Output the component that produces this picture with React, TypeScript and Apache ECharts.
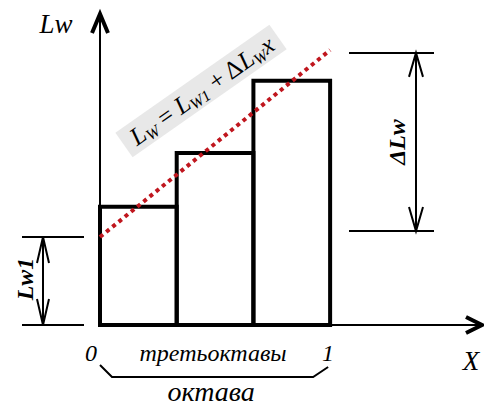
import React, { useEffect, useRef } from "react";
import * as echarts from "echarts";

// Octave split into three third-octave bands
const bandEdges = [0, 1 / 3, 2 / 3, 1];
const bandLevels = [38, 55.3, 78.5];
// Linear law Lw = Lw1 + ΔLw·x
const fitX = [0, 1];
const fitY = [28.3, 88.4];
// Dimension marks: Lw1 from baseline, ΔLw span
const lw1Span = [0, 28.3];
const dLwSpan = [30.2, 87.5];
const xMax = 1.66;
const yMax = 100;

const SERIF = "'Liberation Serif', 'DejaVu Serif', serif";
const fnt = (size: number, italic = true, bold = false) =>
  `${italic ? "italic " : ""}${bold ? "bold " : ""}${size}px ${SERIF}`;

export default function App() {
  const ref = useRef<HTMLDivElement>(null);

  useEffect(() => {
    const chart = echarts.init(ref.current!, null, { renderer: "svg" });
    chart.setOption({
      animation: false,
      grid: { left: 100, top: 14, width: 382, height: 311 },
      xAxis: {
        type: "value",
        min: 0,
        max: xMax,
        axisLine: { show: true, onZero: false, lineStyle: { color: "#000", width: 2 } },
        axisTick: { show: false },
        axisLabel: { show: false },
        splitLine: { show: false },
      },
      yAxis: {
        type: "value",
        min: 0,
        max: yMax,
        axisLine: { show: true, lineStyle: { color: "#000", width: 2 } },
        axisTick: { show: false },
        axisLabel: { show: false },
        splitLine: { show: false },
      },
      series: [
        {
          type: "custom",
          z: 3,
          encode: { x: [0, 1], y: 2 },
          data: bandLevels.map((v, i) => [bandEdges[i], bandEdges[i + 1], v]),
          renderItem: (params: any, api: any) => {
            const p0 = api.coord([api.value(0), 0]);
            const p1 = api.coord([api.value(1), api.value(2)]);
            return {
              type: "rect",
              shape: { x: p0[0], y: p1[1], width: p1[0] - p0[0], height: p0[1] - p1[1] },
              style: { fill: "rgba(255,255,255,0)", stroke: "#000", lineWidth: 4, lineJoin: "miter" },
            };
          },
        },
        {
          type: "line",
          z: 5,
          symbol: "none",
          data: fitX.map((x, i) => [x, fitY[i]]),
          lineStyle: { color: "#c0161e", width: 4, type: [4, 4] },
        },
      ],
    });

    const px = (x: number, y: number) => chart.convertToPixel({ gridIndex: 0 }, [x, y]) as number[];
    const o = px(0, 0);
    const one = px(1, 0);
    const top = px(0, yMax);
    const end = px(xMax, 0);
    const a1 = px(0, lw1Span[1]);
    const d0 = px(0, dLwSpan[0]);
    const d1 = px(0, dLwSpan[1]);

    const line = (pts: number[][], w = 2) => ({
      type: "polyline",
      z: 10,
      shape: { points: pts },
      style: { stroke: "#000", lineWidth: w, fill: null, lineJoin: "miter" },
    });
    const dimArrow = (x: number, yTop: number, yBot: number, hw: number, len: number) => [
      line([[x, yTop], [x, yBot]], 2),
      line([[x - hw, yTop + len], [x, yTop], [x + hw, yTop + len]], 2),
      line([[x - hw, yBot - len], [x, yBot], [x + hw, yBot - len]], 2),
    ];
    const txt = (x: number, y: number, text: string, font: string, rot = 0) => ({
      type: "text",
      z: 10,
      x,
      y,
      rotation: rot,
      style: { text, fill: "#000", align: "center", verticalAlign: "middle", font },
    });

    const eqRich = {
      m: { font: fnt(25), lineHeight: 28, verticalAlign: "middle" },
      n: { font: fnt(25, false), lineHeight: 28, verticalAlign: "middle" },
      s: { font: fnt(16), lineHeight: 16, padding: [13, 0, 0, 0], verticalAlign: "middle" },
    };

    chart.setOption({
      graphic: [
        // axis arrow heads
        line([[top[0] - 8, top[1] + 19], [top[0], top[1]], [top[0] + 8, top[1] + 19]], 4),
        line([[end[0] - 16, end[1] - 8], [end[0], end[1]], [end[0] - 16, end[1] + 8]], 4),
        // Lw1 dimension
        line([[22, a1[1]], [84, a1[1]]], 2),
        line([[22, o[1]], [84, o[1]]], 2),
        ...dimArrow(43, a1[1], o[1], 6, 26),
        // ΔLw dimension
        line([[349, d1[1]], [434, d1[1]]], 2),
        line([[349, d0[1]], [434, d0[1]]], 2),
        ...dimArrow(416, d1[1], d0[1], 7, 24),
        // octave brace
        line([[o[0], o[1] + 40], [o[0] + 12, o[1] + 52], [one[0] - 17, o[1] + 52], [one[0] - 2, o[1] + 42]], 2),
        // labels
        txt(56, 24, "Lw", fnt(27)),
        txt(471, 361, "X", fnt(27)),
        txt(o[0] - 9, o[1] + 28, "0", fnt(24)),
        txt(one[0] - 2, o[1] + 28, "1", fnt(24)),
        txt((o[0] + one[0]) / 2 - 2, o[1] + 28, "третьоктавы", fnt(24)),
        txt((o[0] + one[0]) / 2 - 4, o[1] + 66, "октава", fnt(28)),
        txt(25, 279, "Lw1", fnt(24, true, true), Math.PI / 2),
        txt(397, 142, "ΔLw", fnt(24, true, true), Math.PI / 2),
        {
          type: "text",
          z: 8,
          x: 201,
          y: 91,
          rotation: (35 * Math.PI) / 180,
          style: {
            text: "{m|L}{s|W}{n| = }{m|L}{s|W1}{n| + Δ}{m|L}{s|W}{m|x}",
            rich: eqRich,
            align: "center",
            verticalAlign: "middle",
            backgroundColor: "#e8e8e8",
            padding: [1, 8, 1, 10],
            fill: "#000",
          },
        },
      ],
    });

    return () => chart.dispose();
  }, []);

  return (
    <div
      ref={ref}
      style={{ position: "fixed", left: 0, top: 0, width: 484, height: 405, background: "#fff" }}
    />
  );
}
